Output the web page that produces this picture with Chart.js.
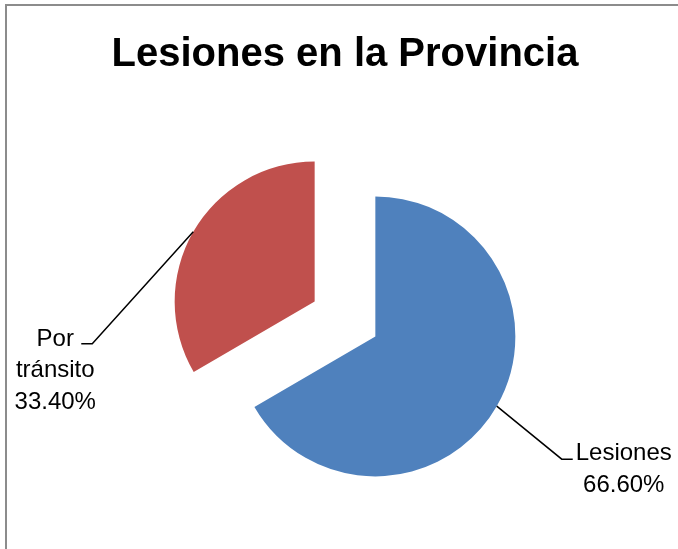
<!DOCTYPE html>
<html>
<head>
<meta charset="utf-8">
<script src="https://cdn.jsdelivr.net/npm/chart.js@4/dist/chart.umd.min.js"></script>
<style>
  body { margin: 0; background: #fff; }
  #frame {
    position: absolute; left: 5px; top: 4px; width: 700px; height: 600px;
    border-left: 2px solid #8c8c8c; border-top: 2px solid #8c8c8c;
    pointer-events: none;
  }
  canvas { position: absolute; left: 0; top: 0; }
</style>
</head>
<body>
<canvas id="pieChart" width="678" height="549"></canvas>
<div id="frame"></div>
<script>
// chart data
const chartTitle = 'Lesiones en la Provincia';
const labels = ['Lesiones', 'Por tránsito'];
const values = [66.6, 33.4];
const colors = ['#4F81BD', '#C0504D'];

// how far each slice is pulled out of the pie (px)
const explode = [35, 35];

// leader line shape for each label: diagonal, then short horizontal piece
const leaderDiag = [[65, 53], [-101, 112]];
const leaderFlat = [11, -11];
// text block anchor relative to the end of the leader line
const textShift = [[51, 1], [-26, 2]];

const labelFont = '24px "Liberation Sans", Arial, sans-serif';
const lineGap = 31.5;

// splits a label into lines that fit into maxWidth
function wrapText(ctx, text, maxWidth) {
  const words = text.split(' ');
  const lines = [];
  let line = '';
  for (const w of words) {
    const test = line ? line + ' ' + w : w;
    if (line && ctx.measureText(test).width > maxWidth) {
      lines.push(line);
      line = w;
    } else {
      line = test;
    }
  }
  lines.push(line);
  return lines;
}

// draws the slices pulled out along their middle angle
const explodePlugin = {
  id: 'explode',
  beforeDatasetsDraw(chart) {
    const ctx = chart.ctx;
    chart.getDatasetMeta(0).data.forEach((arc, i) => {
      const mid = (arc.startAngle + arc.endAngle) / 2;
      ctx.save();
      ctx.translate(Math.cos(mid) * explode[i], Math.sin(mid) * explode[i]);
      arc.draw(ctx);
      ctx.restore();
    });
    return false;
  }
};

// leader lines + "label / value%" text
const labelPlugin = {
  id: 'sliceLabels',
  afterDraw(chart) {
    const ctx = chart.ctx;
    const data = chart.data.datasets[0].data;
    ctx.save();
    ctx.font = labelFont;
    ctx.fillStyle = '#000';
    ctx.strokeStyle = '#000';
    ctx.lineWidth = 1.5;
    chart.getDatasetMeta(0).data.forEach((arc, i) => {
      const mid = (arc.startAngle + arc.endAngle) / 2;
      const cx = arc.x + Math.cos(mid) * explode[i];
      const cy = arc.y + Math.sin(mid) * explode[i];
      const sx = cx + Math.cos(mid) * arc.outerRadius;
      const sy = cy + Math.sin(mid) * arc.outerRadius;
      const ex = sx + leaderDiag[i][0];
      const ey = sy + leaderDiag[i][1];
      const fx = ex + leaderFlat[i];

      ctx.beginPath();
      ctx.moveTo(sx, sy);
      ctx.lineTo(ex, ey);
      ctx.lineTo(fx, ey);
      ctx.stroke();

      const lines = wrapText(ctx, chart.data.labels[i], 100);
      lines.push(data[i].toFixed(2) + '%');
      ctx.textAlign = 'center';
      ctx.textBaseline = 'alphabetic';
      lines.forEach((t, k) => {
        ctx.fillText(t, fx + textShift[i][0], ey + textShift[i][1] + k * lineGap);
      });
    });
    ctx.restore();
  }
};

new Chart(document.getElementById('pieChart'), {
  type: 'pie',
  data: {
    labels: labels,
    datasets: [{
      data: values,
      backgroundColor: colors,
      borderWidth: 0,
      hoverOffset: 0
    }]
  },
  options: {
    responsive: false,
    animation: false,
    radius: 140,
    layout: { padding: { left: 12, right: 0, top: 0, bottom: 0 } },
    plugins: {
      legend: { display: false },
      tooltip: { enabled: false },
      title: {
        display: true,
        text: chartTitle,
        color: '#000',
        font: { family: '"Liberation Sans", Arial, sans-serif', size: 40, weight: 'bold' },
        padding: { top: 31, bottom: 10 }
      }
    }
  },
  plugins: [explodePlugin, labelPlugin]
});
</script>
</body>
</html>
